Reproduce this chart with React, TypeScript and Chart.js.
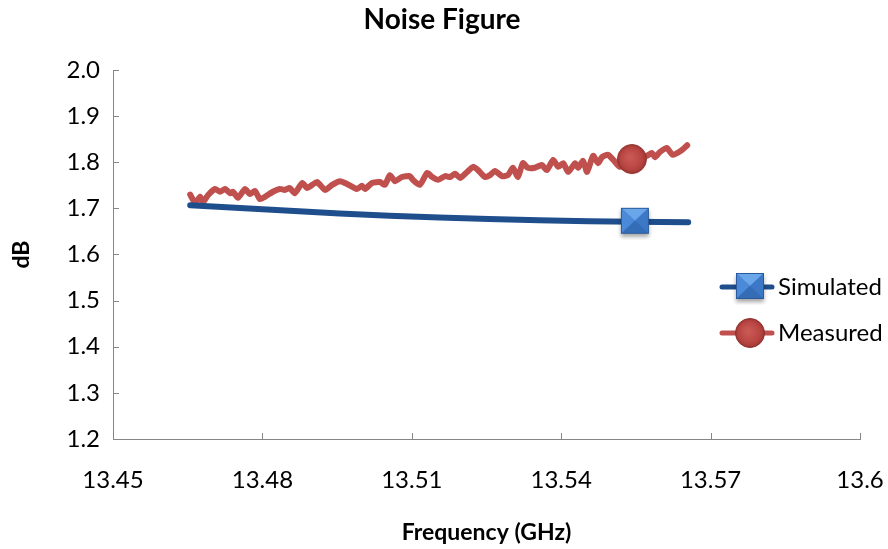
import React, { useEffect, useRef } from "react";
import { Chart, registerables } from "chart.js";

Chart.register(...registerables);

const chartTitle = "Noise Figure";
const xAxisTitle = "Frequency (GHz)";
const yAxisTitle = "dB";
const seriesNames = ["Simulated", "Measured"];

const xTickValues = [13.45, 13.48, 13.51, 13.54, 13.57, 13.6];
const yTickValues = [1.2, 1.3, 1.4, 1.5, 1.6, 1.7, 1.8, 1.9, 2.0];

const simulatedFreq = [13.4655, 13.4755, 13.4855, 13.4955, 13.5055, 13.5155, 13.5255, 13.5355, 13.5455, 13.5548, 13.5655];
const simulatedDb = [1.707, 1.701, 1.695, 1.689, 1.684, 1.68, 1.677, 1.674, 1.672, 1.671, 1.67];
const simulatedMarkerFreq = 13.5548;

const measuredFreq = [
  13.4655, 13.4665, 13.4675, 13.4681, 13.4691, 13.4705, 13.4715, 13.4725, 13.4735, 13.4741,
  13.4751, 13.4765, 13.4775, 13.4785, 13.4795, 13.4805, 13.4821, 13.4835, 13.4845, 13.4855,
  13.4865, 13.488, 13.489, 13.49, 13.491, 13.4926, 13.494, 13.4956, 13.497, 13.499,
  13.5, 13.5006, 13.502, 13.5036, 13.5046, 13.5056, 13.5066, 13.508, 13.5096, 13.5102,
  13.5116, 13.5131, 13.5141, 13.5153, 13.5167, 13.5177, 13.5187, 13.5197, 13.5211, 13.5223,
  13.5233, 13.5247, 13.5257, 13.5267, 13.5281, 13.5293, 13.5303, 13.5313, 13.5323, 13.5333,
  13.5347, 13.5361, 13.5371, 13.5384, 13.5394, 13.5404, 13.5414, 13.5428, 13.5434, 13.5444,
  13.5452, 13.5464, 13.5474, 13.5482, 13.5494, 13.5508, 13.5518, 13.5542, 13.5558, 13.5572,
  13.5582, 13.5588, 13.5598, 13.5612, 13.5624, 13.5643, 13.5653,
];
const measuredDb = [
  1.73, 1.712, 1.725, 1.714, 1.729, 1.742, 1.736, 1.742, 1.733, 1.736,
  1.723, 1.742, 1.731, 1.738, 1.72, 1.725, 1.736, 1.742, 1.74, 1.744,
  1.733, 1.755, 1.744, 1.751, 1.757, 1.74, 1.751, 1.759, 1.753, 1.742,
  1.749, 1.742, 1.755, 1.757, 1.751, 1.772, 1.759, 1.768, 1.77, 1.762,
  1.751, 1.777, 1.768, 1.762, 1.77, 1.768, 1.775, 1.766, 1.779, 1.79,
  1.783, 1.768, 1.772, 1.781, 1.77, 1.772, 1.788, 1.768, 1.798, 1.788,
  1.788, 1.794, 1.783, 1.805, 1.79, 1.798, 1.779, 1.798, 1.788, 1.803,
  1.779, 1.814, 1.798, 1.811, 1.816, 1.801, 1.79, 1.807, 1.809, 1.814,
  1.82, 1.811, 1.822, 1.831, 1.816, 1.827, 1.837,
];
const measuredMarkerFreq = 13.5542;

const BLUE_LINE = "#1F4E8C";
const RED_LINE = "#C0504D";
const AXIS_GREY = "#868686";
const FONT = "Lato, 'Open Sans', sans-serif";

function makeSquareMarker(): HTMLCanvasElement {
  const c = document.createElement("canvas");
  const w = 36, h = 36;
  c.width = w; c.height = h;
  const ctx = c.getContext("2d")!;
  const x0 = 4, y0 = 4, sw = 28, sh = 26;
  ctx.save();
  ctx.shadowColor = "rgba(0,0,0,0.35)";
  ctx.shadowBlur = 4;
  ctx.shadowOffsetY = 3;
  ctx.fillStyle = "#3B77C4";
  ctx.fillRect(x0, y0, sw, sh);
  ctx.restore();
  const cx = x0 + sw / 2, cy = y0 + sh / 2;
  const tri = (pts: number[][], col: string) => {
    ctx.beginPath();
    ctx.moveTo(pts[0][0], pts[0][1]);
    for (let i = 1; i < pts.length; i++) ctx.lineTo(pts[i][0], pts[i][1]);
    ctx.closePath();
    ctx.fillStyle = col;
    ctx.fill();
  };
  tri([[x0, y0], [x0 + sw, y0], [cx, cy]], "#6AA6EA");
  tri([[x0, y0], [cx, cy], [x0, y0 + sh]], "#4A8AD8");
  tri([[x0 + sw, y0], [x0 + sw, y0 + sh], [cx, cy]], "#3C78C6");
  tri([[x0, y0 + sh], [cx, cy], [x0 + sw, y0 + sh]], "#346CB6");
  ctx.strokeStyle = "#2A5A9C";
  ctx.lineWidth = 1;
  ctx.strokeRect(x0 + 0.5, y0 + 0.5, sw - 1, sh - 1);
  return c;
}

function makeCircleMarker(): HTMLCanvasElement {
  const c = document.createElement("canvas");
  const s = 32;
  c.width = s; c.height = s;
  const ctx = c.getContext("2d")!;
  const r = 14.5;
  const g = ctx.createRadialGradient(s / 2 - 2, s / 2 - 2, 2, s / 2, s / 2, r);
  g.addColorStop(0, "#C95754");
  g.addColorStop(0.7, "#B84542");
  g.addColorStop(1, "#9E3734");
  ctx.beginPath();
  ctx.arc(s / 2, s / 2, r, 0, Math.PI * 2);
  ctx.fillStyle = g;
  ctx.fill();
  ctx.strokeStyle = "#8E302D";
  ctx.lineWidth = 1;
  ctx.stroke();
  return c;
}

export default function App() {
  const ref = useRef<HTMLCanvasElement | null>(null);

  useEffect(() => {
    const canvas = ref.current;
    if (!canvas) return;
    const squareImg = makeSquareMarker();
    const circleImg = makeCircleMarker();

    const simMarkerIdx = simulatedFreq.indexOf(simulatedMarkerFreq);
    const measMarkerIdx = measuredFreq.indexOf(measuredMarkerFreq);

    const decorPlugin = {
      id: "decor",
      afterDraw(chart: any) {
        const ctx = chart.ctx as CanvasRenderingContext2D;
        const { left, bottom } = chart.chartArea;
        const xs = chart.scales.x;
        const ys = chart.scales.y;
        ctx.save();
        ctx.strokeStyle = AXIS_GREY;
        ctx.lineWidth = 1;
        ctx.beginPath();
        xTickValues.forEach((v) => {
          const px = Math.round(xs.getPixelForValue(v)) + 0.5;
          ctx.moveTo(px, bottom);
          ctx.lineTo(px, bottom - 6);
        });
        yTickValues.forEach((v) => {
          const py = Math.round(ys.getPixelForValue(v)) + 0.5;
          ctx.moveTo(left, py);
          ctx.lineTo(left + 6, py);
        });
        ctx.stroke();

        ctx.fillStyle = "#000";
        ctx.font = `bold 28px ${FONT}`;
        ctx.textAlign = "center";
        ctx.textBaseline = "middle";
        ctx.fillText(chartTitle, 442, 20);

        const items = [
          { name: seriesNames[0], color: BLUE_LINE, img: squareImg, y: 287 },
          { name: seriesNames[1], color: RED_LINE, img: circleImg, y: 333 },
        ];
        items.forEach((it) => {
          ctx.strokeStyle = it.color;
          ctx.lineWidth = 5;
          ctx.lineCap = "round";
          ctx.beginPath();
          ctx.moveTo(722, it.y);
          ctx.lineTo(772, it.y);
          ctx.stroke();
          ctx.drawImage(it.img, 750 - it.img.width / 2, it.y - it.img.height / 2);
          ctx.fillStyle = "#000";
          ctx.font = `24px ${FONT}`;
          ctx.textAlign = "left";
          ctx.textBaseline = "middle";
          ctx.fillText(it.name, 778, it.y);
        });
        ctx.restore();
      },
    };

    const chart = new Chart(canvas, {
      type: "line",
      data: {
        datasets: [
          {
            label: seriesNames[0],
            data: simulatedFreq.map((f, i) => ({ x: f, y: simulatedDb[i] })),
            borderColor: BLUE_LINE,
            borderWidth: 6,
            borderCapStyle: "round",
            borderJoinStyle: "round",
            tension: 0,
            pointStyle: squareImg as any,
            pointRadius: simulatedFreq.map((_, i) => (i === simMarkerIdx ? 14 : 0)),
            pointHoverRadius: 0,
          },
          {
            label: seriesNames[1],
            data: measuredFreq.map((f, i) => ({ x: f, y: measuredDb[i] })),
            borderColor: RED_LINE,
            borderWidth: 6,
            borderCapStyle: "round",
            borderJoinStyle: "round",
            tension: 0.2,
            pointStyle: circleImg as any,
            pointRadius: measuredFreq.map((_, i) => (i === measMarkerIdx ? 14 : 0)),
            pointHoverRadius: 0,
          },
        ],
      },
      options: {
        responsive: false,
        animation: false,
        layout: { padding: { top: 70, right: 28, bottom: 0, left: 0 } },
        plugins: {
          legend: { display: false },
          title: { display: false },
          tooltip: { enabled: false },
        },
        events: [],
        scales: {
          x: {
            type: "linear",
            min: 13.45,
            max: 13.6,
            afterBuildTicks: (s: any) => {
              s.ticks = xTickValues.map((v) => ({ value: v }));
            },
            afterFit: (s: any) => {
              s.height = 110;
              s.paddingLeft = 0;
              s.paddingRight = 0;
            },
            ticks: {
              autoSkip: false,
              maxRotation: 0,
              padding: 27,
              color: "#000",
              font: { family: FONT, size: 24 },
              callback: (v: any) => String(Number(Number(v).toFixed(2))),
            },
            grid: { display: false, drawTicks: false },
            border: { display: true, color: AXIS_GREY, width: 1 },
            title: {
              display: true,
              text: xAxisTitle,
              color: "#000",
              font: { family: FONT, size: 23, weight: "bold" },
              padding: { top: 0, bottom: 3 },
            },
          },
          y: {
            type: "linear",
            min: 1.2,
            max: 2.0,
            afterBuildTicks: (s: any) => {
              s.ticks = yTickValues.map((v) => ({ value: v }));
            },
            afterFit: (s: any) => {
              s.width = 113;
              s.paddingTop = 0;
              s.paddingBottom = 0;
            },
            ticks: {
              padding: 13,
              color: "#000",
              font: { family: FONT, size: 24 },
              callback: (v: any) => Number(v).toFixed(1),
            },
            grid: { display: false, drawTicks: false },
            border: { display: true, color: AXIS_GREY, width: 1 },
            title: {
              display: true,
              text: yAxisTitle,
              color: "#000",
              font: { family: FONT, size: 23, weight: "bold" },
              padding: { top: 8, bottom: 0 },
            },
          },
        },
      },
      plugins: [decorPlugin],
    });

    return () => chart.destroy();
  }, []);

  return (
    <div style={{ position: "absolute", left: 0, top: 0, width: 888, height: 549, background: "#fff" }}>
      <canvas ref={ref} width={888} height={549} style={{ display: "block" }} />
    </div>
  );
}
